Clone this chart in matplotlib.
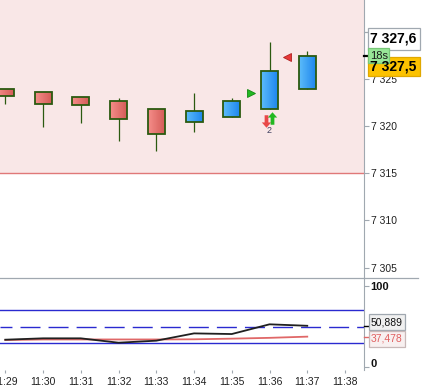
import matplotlib
matplotlib.use('Agg')
import matplotlib.pyplot as plt
import numpy as np
from matplotlib.patches import Rectangle
from matplotlib.path import Path
from matplotlib.lines import Line2D
from matplotlib.colors import LinearSegmentedColormap
from matplotlib.transforms import ScaledTranslation

plt.rcParams['font.family'] = ['Liberation Sans', 'DejaVu Sans']

# ---------------- data ----------------
times = ['11:29', '11:30', '11:31', '11:32', '11:33', '11:34', '11:35', '11:36', '11:37', '11:38']
opens = [7323.9, 7323.6, 7323.05, 7322.66, 7321.8, 7320.5, 7321.0, 7321.85, 7323.9]
highs = [7323.9, 7323.6, 7323.05, 7323.0, 7321.8, 7323.5, 7322.95, 7328.9, 7328.0]
lows = [7322.4, 7319.9, 7320.35, 7318.4, 7317.4, 7319.4, 7321.0, 7321.85, 7323.9]
closes = [7323.2, 7322.4, 7322.3, 7320.8, 7319.2, 7321.6, 7322.7, 7325.9, 7327.5]
price_ticks = [7305, 7310, 7315, 7320, 7325, 7330]
hidden_price_labels = [7330]
zone_level = 7315
last_price = 7327.5
ask_price = 7327.6
timer_text = '18s'

osc_black = [33.7, 35.4, 35.4, 30.0, 32.5, 41.5, 40.7, 52.7, 50.889]
osc_red = [33.3, 34.0, 34.0, 34.0, 34.0, 34.2, 35.0, 36.0, 37.478]
osc_levels_solid = [70, 30]
osc_level_dash = 50
osc_ticks = [0, 100]

buy_signal = (6.5, 7323.5)
sell_signal = (7.46, 7327.4)
arrow_down = (6.9, 7320.6)
arrow_up = (7.07, 7320.9)
count_label = (6.98, 7319.5, '2')

# ---------------- layout ----------------
W, H = 422, 389
fig = plt.figure(figsize=(W / 100, H / 100), dpi=100)
fig.patch.set_facecolor('white')

right_px = 363.5
ax1 = fig.add_axes([0, (H - 277.5) / H, right_px / W, 277.5 / H])
ax2 = fig.add_axes([0, (H - 370) / H, right_px / W, (370 - 277.5) / H])

gray = '#a0a8b0'
xlim = (-0.14, 9.49)

# ---------------- main panel ----------------
ax1.set_xlim(*xlim)
ax1.set_ylim(7303.94, 7333.40)
ax1.axhspan(zone_level, 7340, color='#f9e7e7', zorder=0, lw=0)
ax1.axhline(zone_level, color='#e07878', lw=1.0, zorder=1)

red_cmap = LinearSegmentedColormap.from_list('r', ['#f58e8a', '#d45c58'])
blue_cmap = LinearSegmentedColormap.from_list('b', ['#5cbcfa', '#1e86ee'])
grad = np.linspace(0, 1, 64).reshape(1, -1)
edge = '#2b5a10'
bw = 0.45
for i, (o, h, l, c) in enumerate(zip(opens, highs, lows, closes)):
    ax1.plot([i, i], [l, h], color=edge, lw=0.9, zorder=2, solid_capstyle='butt')
    y0, y1 = min(o, c), max(o, c)
    cmap = blue_cmap if c >= o else red_cmap
    rect = Rectangle((i - bw / 2, y0), bw, y1 - y0, facecolor='none', edgecolor=edge, lw=1.3, zorder=4)
    ax1.add_patch(rect)
    im = ax1.imshow(grad, cmap=cmap, extent=[i - bw / 2, i + bw / 2, y0, y1], aspect='auto', zorder=3,
                    interpolation='bilinear')
    clip = Rectangle((i - bw / 2, y0), bw, y1 - y0, transform=ax1.transData)
    im.set_clip_path(clip)

ax1.set_xlim(*xlim)
ax1.set_ylim(7303.94, 7333.40)

# signals
ax1.plot(*buy_signal, marker='>', ms=6, color='#22b822', mec='#118811', mew=0.6, zorder=5)
ax1.plot(*sell_signal, marker='<', ms=6, color='#e83838', mec='#b02020', mew=0.6, zorder=5)
up_path = Path([(0, 1), (-0.75, 0.15), (-0.3, 0.15), (-0.3, -1), (0.3, -1), (0.3, 0.15), (0.75, 0.15), (0, 1)],
               [Path.MOVETO] + [Path.LINETO] * 6 + [Path.CLOSEPOLY])
down_path = Path([(x, -y) for x, y in up_path.vertices], up_path.codes)
ax1.plot(*arrow_down, marker=down_path, ms=9, color='#e84848', mew=0, zorder=5)
ax1.plot(*arrow_up, marker=up_path, ms=9, color='#22b822', mew=0, zorder=5)
ax1.text(count_label[0], count_label[1], count_label[2], fontsize=6.5, color='#404060',
         ha='center', va='center', zorder=5)

for s in ['top', 'left', 'bottom']:
    ax1.spines[s].set_visible(False)
ax1.spines['right'].set_color(gray)
ax1.yaxis.tick_right()
ax1.set_yticks(price_ticks)
ax1.set_yticklabels(['' if v in hidden_price_labels else f'{int(v) // 1000} {int(v) % 1000:03d}'
                     for v in price_ticks])
ax1.tick_params(axis='y', direction='out', length=3.6, width=0.8, color=gray, pad=1.5,
                labelsize=7.5, labelcolor='#202020')
ax1.set_xticks([])

# ---------------- indicator panel ----------------
ax2.set_xlim(*xlim)
ax2.set_ylim(-3.7, 110.5)
for lv in osc_levels_solid:
    ax2.axhline(lv, color='#2a2ad0', lw=1.0, zorder=1)
ax2.axhline(osc_level_dash, color='#2a2ad0', lw=1.0, linestyle=(5.8, (14.4, 5.8)), zorder=1)
xi = np.arange(len(osc_black))
ax2.plot(xi, osc_red, color='#e06868', lw=1.3, zorder=2)
ax2.plot(xi, osc_black, color='#202020', lw=1.3, zorder=3)

for s in ['top', 'left', 'bottom']:
    ax2.spines[s].set_visible(False)
ax2.spines['right'].set_color(gray)
ax2.yaxis.tick_right()
ax2.set_yticks(osc_ticks)
ax2.set_yticklabels([str(v) for v in osc_ticks], fontweight='bold')
ax2.tick_params(axis='y', direction='out', length=3.6, width=0.8, color=gray, pad=1.5,
                labelsize=8, labelcolor='#101010')
# lift the bottom label slightly, as in the reference
lbl0 = ax2.get_yticklabels()[0]
for t in ax2.yaxis.get_major_ticks()[:1]:
    t.label2.set_transform(t.label2.get_transform() + ScaledTranslation(0, 4 / 100, fig.dpi_scale_trans))
ax2.set_xticks(range(len(times)))
ax2.set_xticklabels(times)
ax2.tick_params(axis='x', direction='out', length=2.5, width=0.8, color=gray, pad=2.5,
                labelsize=7.5, labelcolor='#202020')

# separator line between panels
fig.add_artist(Line2D([0, 418 / W], [1 - 277.8 / H, 1 - 277.8 / H], color=gray, lw=0.9,
                      transform=fig.transFigure))

# ---------------- right-side value labels ----------------
def ypx(ax, v):
    return H - ax.transData.transform((0, v))[1]


def box(x0, x1, yc, h, fc, ec, text, color, fs, weight='normal'):
    fig.add_artist(Rectangle((x0 / W, 1 - (yc + h / 2) / H), (x1 - x0) / W, h / H, transform=fig.transFigure,
                             facecolor=fc, edgecolor=ec, lw=0.9, zorder=5))
    fig.text((x0 + 2) / W, 1 - yc / H, text, fontsize=fs, fontweight=weight, color=color,
             ha='left', va='center', zorder=6)


def tickmark(y, color, lw):
    fig.add_artist(Line2D([right_px / W, 368.5 / W], [1 - y / H, 1 - y / H], color=color, lw=lw,
                          transform=fig.transFigure, zorder=4))


def fmt_price(v):
    s = f'{v:.1f}'.replace('.', ',')
    return s[0] + ' ' + s[1:]


yl = ypx(ax1, last_price)
ya = ypx(ax1, ask_price)
tickmark(ypx(ax1, 7330), gray, 0.8)
tickmark(yl, 'black', 1.6)
box(368, 420, ya - 15.8, 22, 'white', gray, fmt_price(ask_price), 'black', 10, 'bold')
box(368, 420, yl + 10.8, 19.5, '#fcc200', '#e0a800', fmt_price(last_price), 'black', 10, 'bold')
box(368, 389, yl + 0.3, 15, '#98e698', '#78c878', timer_text, '#1a1a1a', 8)

yb = ypx(ax2, osc_black[-1])
yr = ypx(ax2, osc_red[-1])
tickmark(yb, 'black', 1.0)
tickmark(yr, '#e06868', 1.0)
box(368.5, 404.5, yb - 3.3, 16, '#f0f0f0', gray, f'{osc_black[-1]:.3f}'.replace('.', ','), '#101010', 7.5)
box(368.5, 404.5, yr + 2.3, 16, '#f8f0f0', '#c8b8b8', f'{osc_red[-1]:.3f}'.replace('.', ','), '#e06060', 7.5)

fig.savefig('out.png', dpi=100)
